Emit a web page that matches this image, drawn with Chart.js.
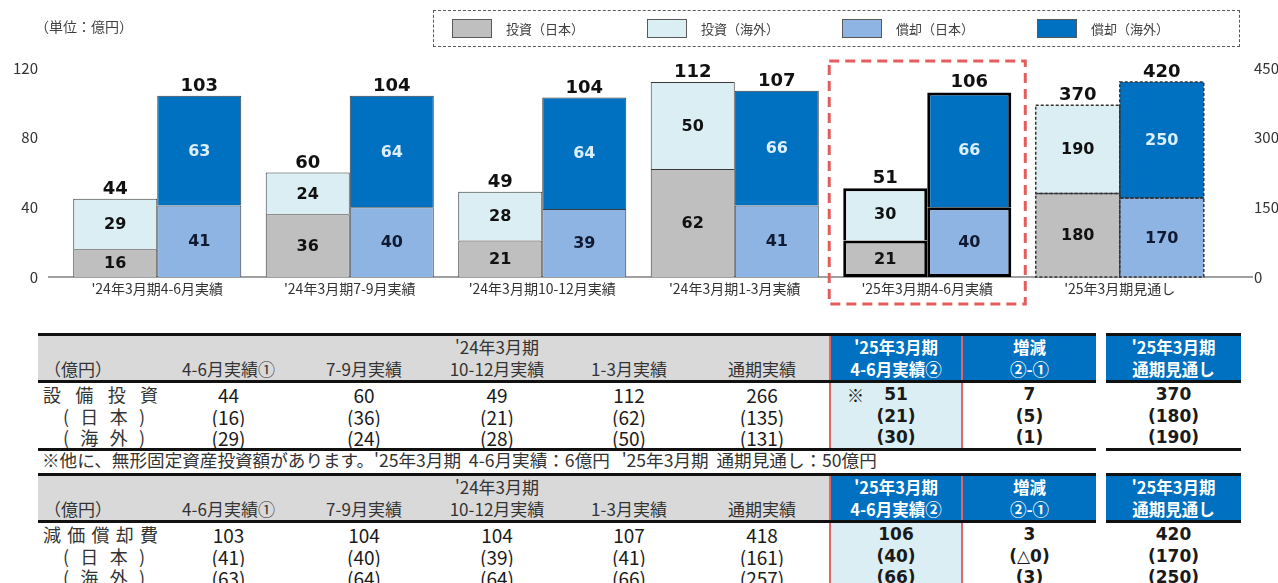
<!DOCTYPE html>
<html lang="ja">
<head>
<meta charset="utf-8">
<script src="https://cdn.jsdelivr.net/npm/chart.js@4.4.1/dist/chart.umd.min.js"></script>
<style>
  html, body { margin: 0; padding: 0; background: #fff; }
  body { width: 1278px; height: 583px; position: relative; overflow: hidden; font-family: "Noto Sans CJK JP", sans-serif; color: #1a1a1a; }
  #chartWrap { position: absolute; left: 0; top: 0; width: 1278px; height: 324px; }
  .unit { position: absolute; left: 35px; top: 16px; font-size: 14px; color: #404040; }
  .legend { position: absolute; left: 433px; top: 10px; width: 807px; height: 37px; box-sizing: border-box;
            border: 1px dashed #595959; display: flex; align-items: center; padding-left: 18px; }
  .legend .item { width: 195px; display: flex; align-items: center; font-size: 13px; color: #404040; }
  .legend .sw { width: 40px; height: 19px; box-sizing: border-box; border: 1px solid #595959; margin-right: 14px; }

  table.t { position: absolute; left: 38px; border-collapse: collapse; table-layout: fixed; }
  .t td { padding: 0; text-align: center; white-space: nowrap; vertical-align: middle; line-height: 21px; overflow: hidden; }
  .t tr.hd td { height: 44px; background: #d9d9d9; border-top: 3px solid #111; border-bottom: 3px solid #111;
                font-size: 17px; line-height: 22px; color: #333; }
  .t tr.hd td.blue { background: #0070c0; color: #fff; font-weight: bold; font-size: 16.5px; }
  .t tr.hd td.lab { text-align: left; padding-left: 6px; }
  .t td.gap { background: #fff !important; border: none !important; }
  .t td.hl { background: #daeef3; border-left: 2px solid #e06666; border-right: 2px solid #e06666; }
  .t tr.hd td.hl { background: #0070c0; }
  .t tr.r1 td { height: 22px; }
  .t tr.r2 td { height: 22px; }
  .t tr.r3 td { height: 21px; border-bottom: 3px solid #111; }
  .t td.num { font-size: 19px; }
  .t td.b { font-family: "DejaVu Sans", "Noto Sans CJK JP", sans-serif; font-weight: bold; font-size: 17px; }
  .t td.lab { font-size: 18px; color: #333; }
  .just { display: flex; justify-content: space-between; line-height: 21px; }
  .just.main { margin-left: 5px; width: 115px; }
  .just.sub { margin-left: 25px; width: 82px; }
  .kome { position: absolute; left: 16px; font-family: "Noto Sans CJK JP", sans-serif; font-weight: normal; font-size: 17px; }
  .note { position: absolute; left: 42px; top: 448px; font-size: 17.6px; line-height: 24px; color: #333; white-space: nowrap; }
</style>
</head>
<body>
<div id="chartWrap"><canvas id="capexChart" width="1278" height="324"></canvas></div>
<div class="unit">（単位：億円）</div>
<div class="legend" id="legend"></div>
<table class="t" id="capexTable" style="top:333px"></table>
<div class="note">※他に、無形固定資産投資額があります。'25年3月期&nbsp; 4-6月実績：6億円&nbsp;&nbsp; '25年3月期&nbsp; 通期見通し：50億円</div>
<table class="t" id="depTable" style="top:473px"></table>

<script>
// Chart data
const categories = ["'24年3月期4-6月実績", "'24年3月期7-9月実績", "'24年3月期10-12月実績",
                    "'24年3月期1-3月実績", "'25年3月期4-6月実績", "'25年3月期見通し"];
const invJapan    = [16, 36, 21, 62, 21, 180];
const invOverseas = [29, 24, 28, 50, 30, 190];
const depJapan    = [41, 40, 39, 41, 40, 170];
const depOverseas = [63, 64, 64, 66, 66, 250];
const invTotal = [44, 60, 49, 112, 51, 370];
const depTotal = [103, 104, 104, 107, 106, 420];
const leftTicks = [0, 40, 80, 120];
const rightTicks = [0, 150, 300, 450];
const forecastIndex = 5;   // the forecast pair is read on the right axis
const highlightIndex = 4;

// Table data (full year actual and change columns)
const invFullYear = [266, 135, 131];
const invDiff = ['7', '5', '1'];
const depFullYear = [418, 161, 257];
const depDiff = ['3', '△0', '3'];

const seriesNames = ['投資（日本）', '投資（海外）', '償却（日本）', '償却（海外）'];
const seriesColors = ['#bfbfbf', '#dbeef4', '#8db4e2', '#0070c0'];
const labelColors = ['#111111', '#111111', '#111a33', '#dcefff'];
const seriesStacks = ['inv', 'inv', 'dep', 'dep'];
const seriesValues = [invJapan, invOverseas, depJapan, depOverseas];

// Legend
document.getElementById('legend').innerHTML = seriesNames.map((n, i) =>
    `<div class="item"><div class="sw" style="background:${seriesColors[i]}"></div>${n}</div>`).join('');

// Datasets: first four on the left axis, the forecast copy on the right axis
const datasets = [];
seriesValues.forEach((vals, s) => {
    datasets.push({
        label: seriesNames[s], series: s, stack: seriesStacks[s], yAxisID: 'y',
        data: vals.map((v, i) => i === forecastIndex ? null : v),
        backgroundColor: seriesColors[s],
        borderColor: ctx => ctx.dataIndex === highlightIndex ? '#000' : '#3a3a3a',
        borderWidth: ctx => ctx.dataIndex === highlightIndex ? 3 : 1,
        borderSkipped: ctx => ctx.dataIndex === highlightIndex && s % 2 === 0 ? false : 'start'
    });
});
seriesValues.forEach((vals, s) => {
    datasets.push({
        label: seriesNames[s], series: s, stack: seriesStacks[s], yAxisID: 'y2', dashed: true,
        data: vals.map((v, i) => i === forecastIndex ? v : null),
        backgroundColor: seriesColors[s],
        borderWidth: 0
    });
});

const numFont = '"DejaVu Sans", sans-serif';
const tickFont = '"Noto Sans CJK JP", sans-serif';

const barDecor = {
    id: 'barDecor',
    beforeDatasetsDraw(chart) {
        // x axis line, a little longer than the plot area
        const {ctx, chartArea} = chart;
        const y0 = chart.scales.y.getPixelForValue(0);
        ctx.save();
        ctx.strokeStyle = '#808080';
        ctx.lineWidth = 1.5;
        ctx.beginPath();
        ctx.moveTo(chartArea.left - 13, y0);
        ctx.lineTo(chartArea.right + 37, y0);
        ctx.stroke();
        ctx.restore();
    },
    afterDatasetsDraw(chart) {
        const ctx = chart.ctx;
        ctx.save();
        // dashed outline for forecast bars
        chart.data.datasets.forEach((ds, di) => {
            if (!ds.dashed) return;
            const el = chart.getDatasetMeta(di).data[forecastIndex];
            ctx.setLineDash([3, 2]);
            ctx.strokeStyle = '#333';
            ctx.lineWidth = 1.5;
            ctx.strokeRect(el.x - el.width / 2, el.y, el.width, el.base - el.y);
        });
        ctx.setLineDash([]);
        // segment values
        ctx.textAlign = 'center';
        ctx.textBaseline = 'middle';
        ctx.font = 'bold 16px ' + numFont;
        chart.data.datasets.forEach((ds, di) => {
            chart.getDatasetMeta(di).data.forEach((el, i) => {
                const v = ds.data[i];
                if (v === null) return;
                ctx.fillStyle = labelColors[ds.series];
                ctx.fillText(String(v), el.x, (el.y + el.base) / 2 + 1);
            });
        });
        // stack totals
        ctx.font = 'bold 18px ' + numFont;
        ctx.fillStyle = '#111';
        ctx.textBaseline = 'alphabetic';
        categories.forEach((c, i) => {
            const off = i === forecastIndex ? 4 : 0;
            const invTop = chart.getDatasetMeta(1 + off).data[i];
            const depTop = chart.getDatasetMeta(3 + off).data[i];
            ctx.fillText(String(invTotal[i]), invTop.x, invTop.y - 5);
            ctx.fillText(String(depTotal[i]), depTop.x, depTop.y - 5);
        });
        ctx.restore();
    },
    afterDraw(chart) {
        // red dashed frame around the current quarter
        const {ctx, chartArea} = chart;
        const a = chart.getDatasetMeta(0).data[highlightIndex];
        const b = chart.getDatasetMeta(2).data[highlightIndex];
        const left = a.x - a.width / 2 - 14;
        const right = b.x + b.width / 2 + 14;
        ctx.save();
        ctx.strokeStyle = '#e35d5d';
        ctx.lineWidth = 3;
        ctx.setLineDash([10, 6]);
        ctx.strokeRect(left, chartArea.top - 7, right - left, chartArea.bottom - chartArea.top + 34);
        ctx.restore();
    }
};

new Chart(document.getElementById('capexChart'), {
    type: 'bar',
    data: { labels: categories, datasets: datasets },
    options: {
        responsive: false,
        animation: false,
        layout: { padding: { top: 68, left: 0, right: 0, bottom: 0 } },
        datasets: { bar: { categoryPercentage: 0.873, barPercentage: 1 } },
        plugins: { legend: { display: false }, tooltip: { enabled: false } },
        scales: {
            x: {
                stacked: true,
                grid: { display: false, drawTicks: false },
                border: { display: false },
                ticks: { padding: 3, color: '#333', maxRotation: 0, autoSkip: false,
                         font: { family: tickFont, size: 14 } },
                afterFit: s => { s.height = 43; }
            },
            y: {
                position: 'left', stacked: true, min: 0, max: 120,
                afterBuildTicks: s => { s.ticks = leftTicks.map(v => ({ value: v })); },
                grid: { display: false, drawTicks: false },
                border: { display: false },
                ticks: { padding: 23, color: '#333', font: { family: tickFont, size: 15 } },
                afterFit: s => { s.width = 61; }
            },
            y2: {
                position: 'right', stacked: true, min: 0, max: 450,
                afterBuildTicks: s => { s.ticks = rightTicks.map(v => ({ value: v })); },
                grid: { display: false, drawTicks: false },
                border: { display: false },
                ticks: { padding: 38, color: '#333', font: { family: tickFont, size: 15 } },
                afterFit: s => { s.width = 62; }
            }
        }
    },
    plugins: [barDecor]
});

// Tables
const colWidths = [122, 137, 134, 132, 132, 135, 132, 134, 10, 135];
const periodHeads = ['4-6月実績①', '7-9月実績', '10-12月実績', '1-3月実績', '通期実績'];

function buildTable(id, titleChars, rows, fullYear, diff, withKome) {
    let html = '<colgroup>' + colWidths.map(w => `<col style="width:${w}px">`).join('') + '</colgroup>';
    html += '<tr class="hd"><td class="lab"><br>（億円）</td>';
    periodHeads.forEach((h, i) => {
        html += `<td>${i === 2 ? "'24年3月期" : ''}<br>${h}</td>`;
    });
    html += `<td class="blue hl">'25年3月期<br>4-6月実績②</td><td class="blue">増減<br>②-①</td>` +
            `<td class="gap"></td><td class="blue">'25年3月期<br>通期見通し</td></tr>`;
    rows.forEach((src, k) => {
        const f = v => k === 0 ? String(v) : `(${v})`;
        const lab = k === 0
            ? `<div class="just main">${titleChars.map(c => `<span>${c}</span>`).join('')}</div>`
            : `<div class="just sub">${['(', k === 1 ? '日' : '海', k === 1 ? '本' : '外', ')'].map(c => `<span>${c}</span>`).join('')}</div>`;
        html += `<tr class="r${k + 1}"><td class="lab">${lab}</td>`;
        for (let i = 0; i < 4; i++) html += `<td class="num">${f(src[i])}</td>`;
        html += `<td class="num">${f(fullYear[k])}</td>`;
        const kome = withKome && k === 0 ? '<span class="kome">※</span>' : '';
        html += `<td class="b hl" style="position:relative">${kome}${f(src[4])}</td>`;
        html += `<td class="b">${f(diff[k])}</td><td class="gap"></td><td class="b">${f(src[5])}</td></tr>`;
    });
    document.getElementById(id).innerHTML = html;
}

buildTable('capexTable', ['設', '備', '投', '資'], [invTotal, invJapan, invOverseas], invFullYear, invDiff, true);
buildTable('depTable', ['減', '価', '償', '却', '費'], [depTotal, depJapan, depOverseas], depFullYear, depDiff, false);
</script>
</body>
</html>
